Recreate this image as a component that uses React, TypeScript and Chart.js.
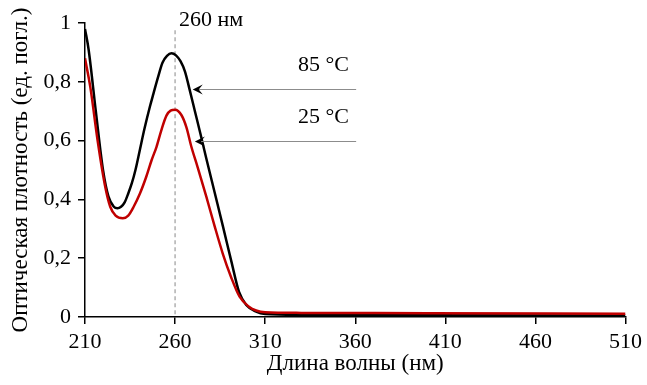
import { useEffect, useRef } from "react";
import { Chart, registerables } from "chart.js";

Chart.register(...registerables);

// Data (wavelength in nm, optical density)
const wavelength85 = [210, 212, 216, 220, 223, 226, 228, 230, 232, 234, 236, 238, 240.5, 243, 246, 248, 250.5, 253, 255.5, 258, 260.5, 263, 265.5, 268, 271, 274, 277.3, 281.9, 286.5, 291.2, 295.5, 299.5, 305, 310, 330, 400, 510];
const density85 = [0.98, 0.91, 0.70, 0.50, 0.41, 0.375, 0.37, 0.375, 0.39, 0.42, 0.455, 0.50, 0.57, 0.64, 0.715, 0.76, 0.815, 0.865, 0.888, 0.897, 0.89, 0.87, 0.835, 0.775, 0.70, 0.625, 0.54, 0.425, 0.31, 0.19, 0.085, 0.041, 0.018, 0.01, 0.007, 0.006, 0.005];

const wavelength25 = [210, 213, 217, 221, 224, 227, 231, 234, 237, 240.5, 244, 247, 249.7, 252.4, 255.2, 257.5, 260, 263.5, 266.3, 269, 272.5, 277.3, 281.9, 286.5, 291, 295.8, 301, 305, 310, 330, 400, 510];
const density25 = [0.88, 0.78, 0.60, 0.45, 0.375, 0.345, 0.336, 0.345, 0.375, 0.42, 0.477, 0.534, 0.579, 0.636, 0.685, 0.702, 0.705, 0.687, 0.645, 0.58, 0.51, 0.41, 0.31, 0.215, 0.137, 0.069, 0.035, 0.022, 0.016, 0.014, 0.013, 0.011];

const xTickValues = [210, 260, 310, 360, 410, 460, 510];
const yTickValues = [0, 0.2, 0.4, 0.6, 0.8, 1];

const markerWavelength = 260;
const markerLabel = "260 нм";

const annotationLabels = ["85 °C", "25 °C"];
const annotationLabelY = [0.855, 0.68];
const annotationArrowY = [0.776, 0.6];
const annotationArrowTipX = [269.8, 271];
const annotationArrowTailX = [360.5, 360.5];
const annotationLabelRightX = [356.5, 356.5];

const xTitle = "Длина волны (нм)";
const yTitle = "Оптическая плотность (ед. погл.)";

const FONT = "'Liberation Serif', 'Times New Roman', serif";
const FS = 22;
const FS_TITLE = 23;

export default function App() {
  const ref = useRef<HTMLCanvasElement | null>(null);

  useEffect(() => {
    document.body.style.margin = "0";
    const canvas = ref.current;
    if (!canvas) return;

    const annotationPlugin = {
      id: "annot",
      beforeDatasetsDraw(chart: any) {
        const { ctx, scales } = chart;
        const x = scales.x.getPixelForValue(markerWavelength);
        ctx.save();
        ctx.strokeStyle = "#b0b0b0";
        ctx.lineWidth = 1.5;
        ctx.setLineDash([4, 3]);
        ctx.beginPath();
        ctx.moveTo(x, scales.y.getPixelForValue(0.975));
        ctx.lineTo(x, scales.y.getPixelForValue(0));
        ctx.stroke();
        ctx.restore();
      },
      afterDraw(chart: any) {
        const { ctx, scales } = chart;
        ctx.save();
        ctx.font = `${FS}px ${FONT}`;
        ctx.fillStyle = "#000";
        ctx.textBaseline = "middle";
        ctx.textAlign = "left";
        const mx = scales.x.getPixelForValue(markerWavelength);
        ctx.fillText(markerLabel, mx + 4, scales.y.getPixelForValue(1) - 3);

        for (let i = 0; i < annotationLabels.length; i++) {
          const ty = scales.y.getPixelForValue(annotationLabelY[i]);
          ctx.textAlign = "right";
          ctx.fillStyle = "#000";
          ctx.fillText(annotationLabels[i], scales.x.getPixelForValue(annotationLabelRightX[i]), ty);

          const ay = Math.round(scales.y.getPixelForValue(annotationArrowY[i])) + 0.5;
          const tipX = scales.x.getPixelForValue(annotationArrowTipX[i]);
          const tailX = scales.x.getPixelForValue(annotationArrowTailX[i]);
          ctx.strokeStyle = "#8c8c8c";
          ctx.lineWidth = 1;
          ctx.setLineDash([]);
          ctx.beginPath();
          ctx.moveTo(tipX + 4, ay);
          ctx.lineTo(tailX, ay);
          ctx.stroke();
          ctx.fillStyle = "#000";
          ctx.beginPath();
          ctx.moveTo(tipX, ay);
          ctx.lineTo(tipX + 10, ay - 5);
          ctx.lineTo(tipX + 6, ay);
          ctx.lineTo(tipX + 10, ay + 5);
          ctx.closePath();
          ctx.fill();
        }
        ctx.restore();
      },
    };

    const chart = new Chart(canvas, {
      type: "line",
      data: {
        datasets: [
          {
            label: "25 °C",
            data: wavelength25.map((x, i) => ({ x, y: density25[i] })),
            borderColor: "#c00000",
            borderWidth: 2.5,
            pointRadius: 0,
            cubicInterpolationMode: "monotone",
            fill: false,
          },
          {
            label: "85 °C",
            data: wavelength85.map((x, i) => ({ x, y: density85[i] })),
            borderColor: "#000000",
            borderWidth: 2.5,
            pointRadius: 0,
            cubicInterpolationMode: "monotone",
            fill: false,
          },
        ],
      },
      options: {
        animation: false,
        responsive: false,
        maintainAspectRatio: false,
        layout: { padding: { top: 23, right: 5, left: 0, bottom: 0 } },
        plugins: {
          legend: { display: false },
          tooltip: { enabled: false },
        },
        scales: {
          x: {
            type: "linear",
            min: 210,
            max: 510,
            afterBuildTicks: (s: any) => {
              s.ticks = xTickValues.map((v) => ({ value: v }));
            },
            afterFit: (s: any) => {
              s.height = 68;
            },
            ticks: {
              color: "#000",
              font: { family: FONT, size: FS },
              padding: 5,
              maxRotation: 0,
              callback: (v: any) => String(v),
            },
            grid: {
              drawOnChartArea: false,
              drawTicks: true,
              tickLength: 7,
              color: "#000",
              lineWidth: 1.5,
            },
            border: { display: true, color: "#000", width: 1.5 },
            title: {
              display: true,
              text: xTitle,
              color: "#000",
              font: { family: FONT, size: FS_TITLE },
              padding: { top: 0, bottom: 7 },
            },
          },
          y: {
            type: "linear",
            min: 0,
            max: 1,
            afterBuildTicks: (s: any) => {
              s.ticks = yTickValues.map((v) => ({ value: v }));
            },
            afterFit: (s: any) => {
              s.width = 85;
            },
            ticks: {
              color: "#000",
              font: { family: FONT, size: FS },
              padding: 7,
              callback: (v: any) => String(Math.round(Number(v) * 10) / 10).replace(".", ","),
            },
            grid: {
              drawOnChartArea: false,
              drawTicks: true,
              tickLength: 7,
              color: "#000",
              lineWidth: 1.5,
            },
            border: { display: true, color: "#000", width: 1.5 },
            title: {
              display: true,
              text: yTitle,
              color: "#000",
              font: { family: FONT, size: FS_TITLE },
              padding: { top: 7, bottom: 0 },
            },
          },
        },
      },
      plugins: [annotationPlugin],
    } as any);

    return () => chart.destroy();
  }, []);

  return <canvas ref={ref} width={647} height={385} style={{ display: "block", width: 647, height: 385 }} />;
}
